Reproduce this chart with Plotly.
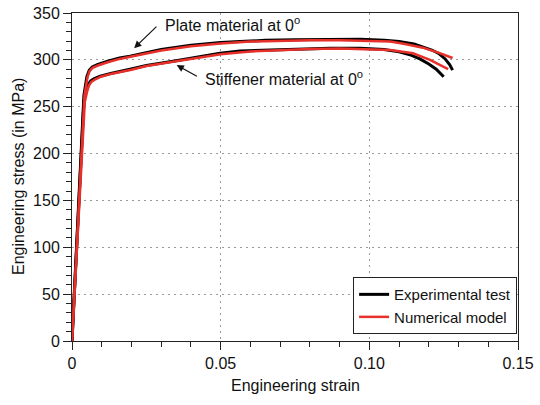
import plotly.graph_objects as go

# ---- data ----
plate_exp_strain = [0, 0.0040, 0.0050, 0.0058, 0.0068, 0.0085, 0.012, 0.016, 0.0195, 0.025, 0.03, 0.04,
                    0.05, 0.0565, 0.065, 0.075, 0.085, 0.097, 0.105, 0.11, 0.115, 0.118, 0.121, 0.1235,
                    0.1255, 0.127, 0.128]
plate_exp_stress = [0, 262, 282, 289, 292.5, 295, 298.5, 302, 304, 308, 311, 315.5,
                    318.5, 319.5, 320.8, 321.5, 322, 322, 321, 319.5, 317, 313.5, 310.5, 306.5,
                    301, 295, 289]

plate_num_strain = [0, 0.0042, 0.0052, 0.0059, 0.0069, 0.0087, 0.012, 0.016, 0.02, 0.025, 0.03, 0.04,
                    0.05, 0.06, 0.07, 0.08, 0.09, 0.10, 0.107, 0.112, 0.118, 0.123, 0.128]
plate_num_stress = [0, 262, 281.5, 288, 291.5, 294, 297.5, 301, 303.5, 307, 310, 314.5,
                    317.5, 319.5, 320.5, 321, 321, 320.5, 319.5, 317, 313, 308, 302]

stiff_exp_strain = [0, 0.0040, 0.0048, 0.0055, 0.0063, 0.0075, 0.0095, 0.013, 0.0195, 0.025, 0.035,
                    0.0498, 0.0565, 0.065, 0.075, 0.0868, 0.0969, 0.10, 0.105, 0.11, 0.114, 0.117,
                    0.12, 0.1225, 0.124, 0.125]
stiff_exp_stress = [0, 255, 268, 274, 277.5, 280, 282.5, 285.5, 290, 294, 299,
                    307, 309.5, 310.5, 311.5, 312.5, 312.5, 312, 311, 308.5, 305, 301,
                    295.5, 290, 285.5, 282]

stiff_num_strain = [0, 0.0043, 0.0051, 0.0057, 0.0065, 0.0077, 0.0097, 0.013, 0.02, 0.025, 0.035,
                    0.05, 0.06, 0.07, 0.08, 0.09, 0.10, 0.107, 0.1147, 0.1204, 0.1265]
stiff_num_stress = [0, 255, 266.5, 272.5, 276.5, 279, 282, 285, 289.5, 293.5, 298.5,
                    306, 309, 310.5, 311.5, 312, 311.5, 310.5, 307, 300, 290]

x_tick_vals = [0, 0.05, 0.10, 0.15]
x_tick_text = ["0", "0.05", "0.10", "0.15"]
y_tick_vals = [0, 50, 100, 150, 200, 250, 300, 350]

series_names = ["Experimental test", "Numerical model"]
label_plate = "Plate material at 0<sup>o</sup>"
label_stiff = "Stiffener material at 0<sup>o</sup>"
x_title = "Engineering strain"
y_title = "Engineering stress (in MPa)"

BLACK = "#000000"
RED = "#e8302a"
TXT = "#111111"
FONT = "Liberation Sans, Arial, Helvetica, sans-serif"

fig = go.Figure()
fig.add_trace(go.Scatter(x=plate_exp_strain, y=plate_exp_stress, mode="lines",
                         line=dict(color=BLACK, width=3), name=series_names[0],
                         legendgroup="exp", showlegend=True))
fig.add_trace(go.Scatter(x=stiff_exp_strain, y=stiff_exp_stress, mode="lines",
                         line=dict(color=BLACK, width=3), name=series_names[0],
                         legendgroup="exp", showlegend=False))
fig.add_trace(go.Scatter(x=plate_num_strain, y=plate_num_stress, mode="lines",
                         line=dict(color=RED, width=2.5), name=series_names[1],
                         legendgroup="num", showlegend=True))
fig.add_trace(go.Scatter(x=stiff_num_strain, y=stiff_num_stress, mode="lines",
                         line=dict(color=RED, width=2.5), name=series_names[1],
                         legendgroup="num", showlegend=False))

axis_common = dict(
    showline=True, linecolor="#222222", linewidth=1, mirror=True,
    ticks="outside", ticklen=8, tickcolor="#222222", tickwidth=1,
    showgrid=True, gridcolor="#9a9a9a", griddash="2px,4px", gridwidth=1,
    zeroline=False, automargin=False,
    tickfont=dict(family=FONT, size=16, color=TXT),
)

fig.update_xaxes(
    range=[0, 0.15], tickvals=x_tick_vals, ticktext=x_tick_text,
    minor=dict(dtick=0.01, ticklen=5, tickcolor="#222222", ticks="outside", showgrid=False),
    **axis_common,
)
fig.update_yaxes(
    range=[0, 350], tickvals=y_tick_vals,
    minor=dict(dtick=10, ticklen=5, tickcolor="#222222", ticks="outside", showgrid=False),
    **axis_common,
)

# axis titles as annotations
fig.add_annotation(x=0.5, y=-0.135, xref="paper", yref="paper", yanchor="middle", xanchor="center",
                   text=x_title, showarrow=False, font=dict(family=FONT, size=16, color=TXT))
fig.add_annotation(x=-0.121, y=0.5, xref="paper", yref="paper", yanchor="middle", xanchor="center",
                   text=y_title, textangle=-90, showarrow=False, font=dict(family=FONT, size=16, color=TXT))

# arrows
fig.add_annotation(x=0.0209, y=312.5, ax=0.0289, ay=337, xref="x", yref="y", axref="x", ayref="y",
                   text="", showarrow=True, arrowhead=2, arrowsize=1.2, arrowwidth=1.2, arrowcolor=TXT)
fig.add_annotation(x=0.0352, y=294.5, ax=0.0425, ay=281.5, xref="x", yref="y", axref="x", ayref="y",
                   text="", showarrow=True, arrowhead=2, arrowsize=1.2, arrowwidth=1.2, arrowcolor=TXT)
# labels
fig.add_annotation(x=0.0306, y=338.5, xref="x", yref="y", text=label_plate, showarrow=False,
                   xanchor="left", yanchor="middle", font=dict(family=FONT, size=16, color=TXT))
fig.add_annotation(x=0.0441, y=281, xref="x", yref="y", text=label_stiff, showarrow=False,
                   xanchor="left", yanchor="middle", font=dict(family=FONT, size=16, color=TXT))

fig.update_layout(
    width=540, height=405,
    margin=dict(l=72, r=22, t=13, b=64, autoexpand=False),
    paper_bgcolor="white", plot_bgcolor="white",
    font=dict(family=FONT, size=16, color=TXT),
    legend=dict(x=0.998, y=0.021, xanchor="right", yanchor="bottom",
                bgcolor="white", bordercolor="#222222", borderwidth=1,
                font=dict(family=FONT, size=15, color=TXT),
                itemwidth=30, tracegroupgap=0),
    showlegend=True,
)

fig.write_html("out.html")
